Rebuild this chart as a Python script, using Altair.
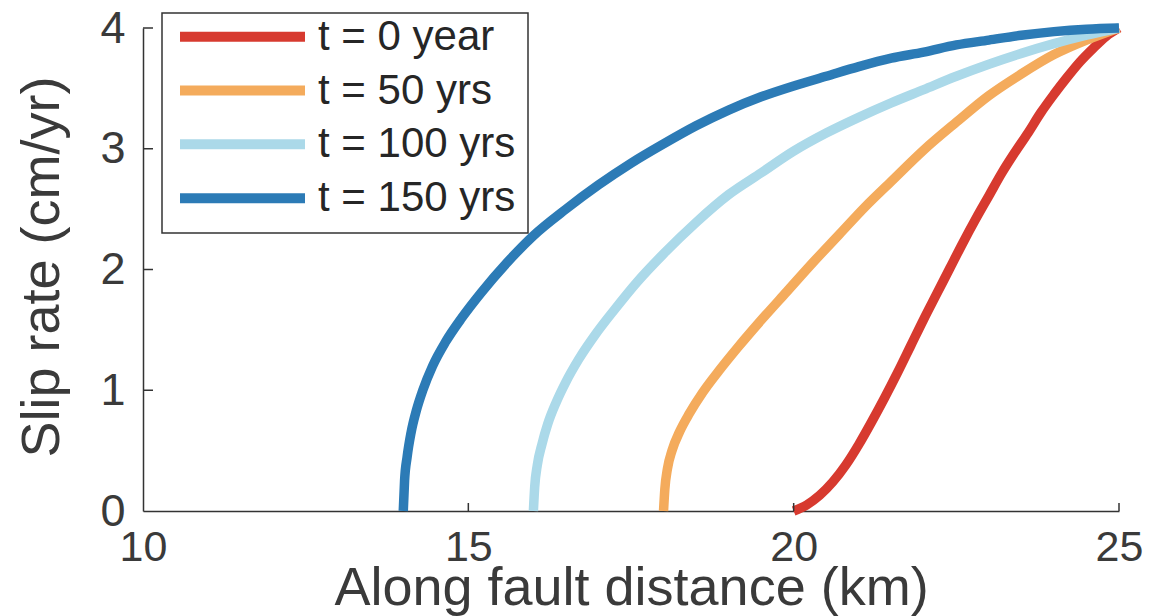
import altair as alt
import pandas as pd

labels = ["t = 0 year", "t = 50 yrs", "t = 100 yrs", "t = 150 yrs"]
colors = ["#d73a2f", "#f4ab5c", "#abd9e9", "#2c7bb6"]

x_t0 = [20.0, 20.2, 20.4, 20.6, 20.8, 21.0, 21.2, 21.4, 21.6, 21.8, 22.0, 22.2, 22.4, 22.6, 22.8, 23.0, 23.2, 23.4, 23.6, 23.8, 24.0, 24.2, 24.4, 24.6, 24.8, 25.0]
y_t0 = [0.0, 0.05, 0.13, 0.24, 0.38, 0.55, 0.74, 0.94, 1.15, 1.37, 1.59, 1.80, 2.01, 2.22, 2.42, 2.61, 2.80, 2.97, 3.13, 3.30, 3.45, 3.59, 3.72, 3.83, 3.93, 4.0]

x_t50 = [18.0, 18.02, 18.06, 18.13, 18.25, 18.4, 18.6, 18.85, 19.15, 19.5, 19.9, 20.3, 20.7, 21.1, 21.5, 22.0, 22.5, 23.0, 23.5, 24.0, 24.5, 25.0]
y_t50 = [0.0, 0.18, 0.35, 0.50, 0.66, 0.81, 0.98, 1.16, 1.36, 1.58, 1.82, 2.06, 2.29, 2.52, 2.73, 2.99, 3.22, 3.44, 3.62, 3.78, 3.90, 4.0]

x_t100 = [16.0, 16.02, 16.06, 16.13, 16.22, 16.35, 16.5, 16.7, 16.95, 17.25, 17.6, 18.0, 18.5, 19.0, 19.5, 20.0, 20.5, 21.0, 21.5, 22.0, 22.5, 23.0, 23.5, 24.0, 24.5, 25.0]
y_t100 = [0.0, 0.20, 0.38, 0.55, 0.72, 0.90, 1.07, 1.26, 1.46, 1.67, 1.90, 2.13, 2.39, 2.62, 2.80, 2.98, 3.13, 3.26, 3.38, 3.49, 3.60, 3.70, 3.79, 3.87, 3.94, 4.0]

x_t150 = [14.0, 14.02, 14.06, 14.12, 14.2, 14.3, 14.45, 14.65, 14.9, 15.2, 15.6, 16.0, 16.5, 17.0, 17.5, 18.0, 18.5, 19.0, 19.5, 20.0, 20.5, 21.0, 21.5, 22.0, 22.5, 23.0, 23.5, 24.0, 24.5, 25.0]
y_t150 = [0.0, 0.25, 0.45, 0.65, 0.83, 1.0, 1.2, 1.4, 1.6, 1.81, 2.06, 2.28, 2.5, 2.7, 2.88, 3.04, 3.19, 3.32, 3.43, 3.52, 3.60, 3.68, 3.75, 3.80, 3.86, 3.90, 3.94, 3.97, 3.99, 4.0]

x_ticks = [10, 15, 20, 25]
y_ticks = [0, 1, 2, 3, 4]

series = [(labels[0], x_t0, y_t0), (labels[1], x_t50, y_t50),
          (labels[2], x_t100, y_t100), (labels[3], x_t150, y_t150)]
rows = []
for i, (lab, xs, ys) in enumerate(series):
    for j, (xv, yv) in enumerate(zip(xs, ys)):
        rows.append({"series": lab, "s": i, "i": j, "x": xv, "y": yv})
df = pd.DataFrame(rows)

W, H = 976, 483
FONT = "Liberation Sans"
AX = "#333333"
TX = "#3a3a3a"

xscale = alt.Scale(domain=[10, 25], nice=False, zero=False)
yscale = alt.Scale(domain=[0, 4], nice=False, zero=False)
cscale = alt.Scale(domain=labels, range=colors)

xaxis = alt.Axis(
    values=x_ticks, ticks=False, tickSize=0, grid=False, labelFlush=False,
    domain=True, labels=True, orient="bottom",
    labelFontSize=43, labelPadding=15, labelColor=TX, labelFont=FONT,
    domainColor=AX, domainWidth=1.5,
    title="Along fault distance (km)", titleFontSize=54, titleFont=FONT,
    titleFontWeight="normal", titleColor=TX, titleY=93,
    titleBaseline="alphabetic")
yaxis = alt.Axis(
    values=y_ticks, ticks=False, tickSize=0, grid=False,
    domain=True, labels=True, orient="left",
    labelFontSize=45, labelPadding=18, labelColor=TX, labelFont=FONT,
    labelBaseline="middle",
    domainColor=AX, domainWidth=1.5,
    title="Slip rate (cm/yr)", titleFontSize=54, titleFont=FONT,
    titleFontWeight="normal", titleColor=TX, titleX=-85, titleY=H / 2 - 3,
    titleAngle=270, titleAlign="center", titleBaseline="alphabetic")

lines = alt.Chart(df).mark_line(strokeWidth=9.5, interpolate="monotone").encode(
    x=alt.X("x:Q", scale=xscale, axis=xaxis),
    y=alt.Y("y:Q", scale=yscale, axis=yaxis),
    color=alt.Color("series:N", scale=cscale, legend=None),
    order=alt.Order("i:Q"),
    detail="s:O",
)

ytick_df = pd.DataFrame({"v": y_ticks[1:]})
ytick_layer = alt.Chart(ytick_df).mark_rule(color=AX, strokeWidth=1.5).encode(
    y=alt.Y("v:Q", scale=yscale, axis=yaxis),
    x=alt.value(0), x2=alt.value(10),
)
xtick_df = pd.DataFrame({"v": x_ticks[1:]})
xtick_layer = alt.Chart(xtick_df).mark_rule(color=AX, strokeWidth=1.5).encode(
    x=alt.X("v:Q", scale=xscale, axis=xaxis),
    y=alt.value(H), y2=alt.value(H - 8),
)

box = alt.Chart(pd.DataFrame({"a": [0]})).mark_rect(
    fill="white", stroke=AX, strokeWidth=1.5).encode(
    x=alt.value(19), x2=alt.value(385), y=alt.value(-15), y2=alt.value(205))

row_y = [8.7, 62.5, 116.3, 170.3]
legend_layers = []
for k, lab in enumerate(labels):
    one = pd.DataFrame({"series": [lab]})
    legend_layers.append(alt.Chart(one).mark_rule(strokeWidth=10).encode(
        x=alt.value(37), x2=alt.value(162), y=alt.value(row_y[k]),
        color=alt.Color("series:N", scale=cscale, legend=None)))
    legend_layers.append(alt.Chart(one).mark_text(
        align="left", baseline="middle", fontSize=42, font=FONT,
        color="#262626").encode(
        x=alt.value(175), y=alt.value(row_y[k]), text="series:N"))

chart = alt.layer(lines, ytick_layer, xtick_layer, box, *legend_layers).properties(
    width=W, height=H,
    background="white",
    autosize=alt.AutoSizeParams(type="none"),
    padding={"left": 143, "top": 28, "right": 37, "bottom": 105},
).configure_view(stroke="transparent", strokeWidth=0)

chart.save("out.html", embed_options={"renderer": "svg", "actions": False})
